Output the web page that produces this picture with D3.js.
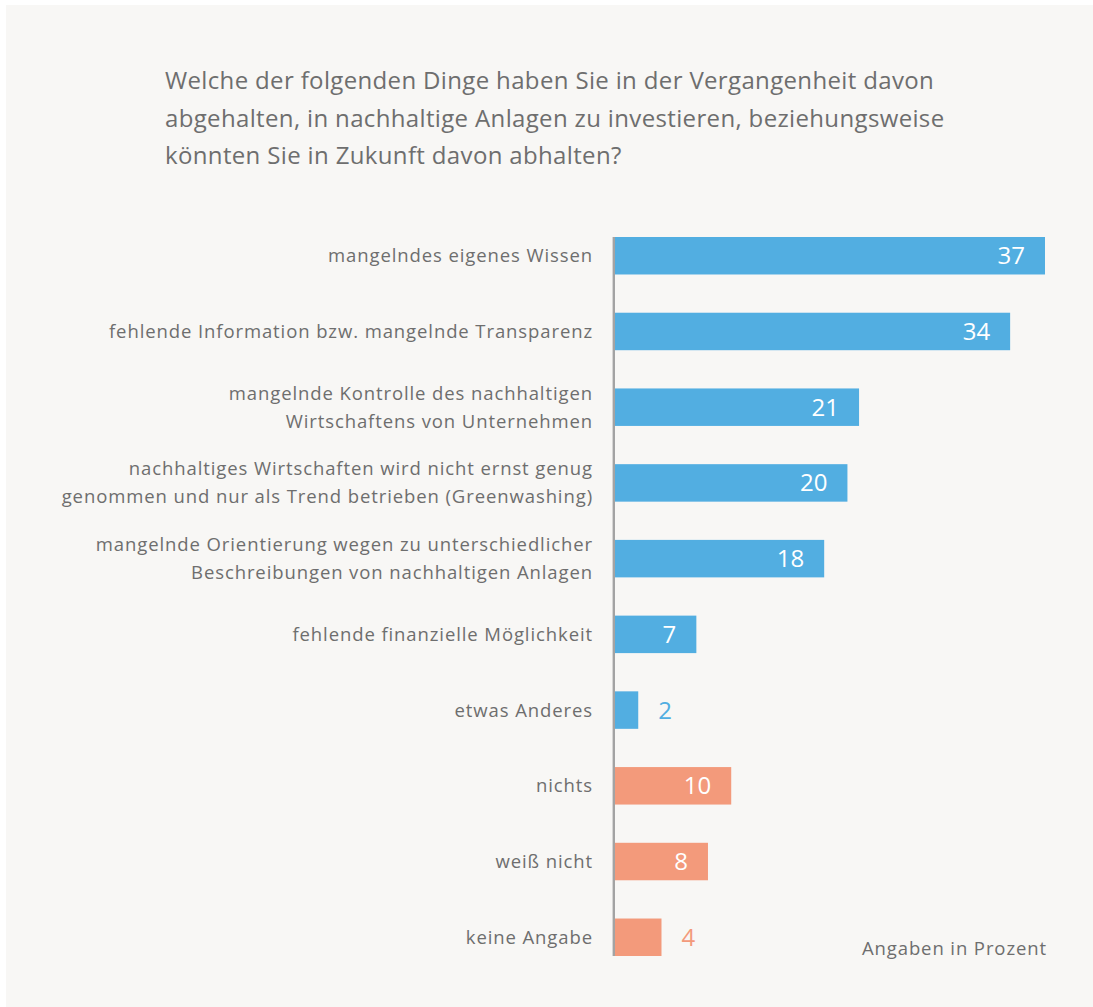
<!DOCTYPE html>
<html>
<head>
<meta charset="utf-8">
<script src="https://cdn.jsdelivr.net/npm/d3@7"></script>
<style>
  html, body { margin: 0; padding: 0; background: #ffffff; }
  svg { display: block; }
</style>
</head>
<body>
<svg id="chart"></svg>
<script>
// data
const titleLines = [
  "Welche der folgenden Dinge haben Sie in der Vergangenheit davon",
  "abgehalten, in nachhaltige Anlagen zu investieren, beziehungsweise",
  "könnten Sie in Zukunft davon abhalten?"
];
const categories = [
  ["mangelndes eigenes Wissen"],
  ["fehlende Information bzw. mangelnde Transparenz"],
  ["mangelnde Kontrolle des nachhaltigen", "Wirtschaftens von Unternehmen"],
  ["nachhaltiges Wirtschaften wird nicht ernst genug", "genommen und nur als Trend betrieben (Greenwashing)"],
  ["mangelnde Orientierung wegen zu unterschiedlicher", "Beschreibungen von nachhaltigen Anlagen"],
  ["fehlende finanzielle Möglichkeit"],
  ["etwas Anderes"],
  ["nichts"],
  ["weiß nicht"],
  ["keine Angabe"]
];
const values = [37, 34, 21, 20, 18, 7, 2, 10, 8, 4];
const groups = ["reason", "reason", "reason", "reason", "reason", "reason", "reason", "other", "other", "other"];
const footnote = "Angaben in Prozent";

const width = 1093, height = 1007;
const FONT = "'Open Sans', Lato, sans-serif";
const COLORS = { reason: "#52aee1", other: "#f39a7b", text: "#6e6e6e", axis: "#a3a3a3", panel: "#f8f7f5" };

const svg = d3.select("#chart").attr("width", width).attr("height", height);

// panel background
svg.append("rect")
  .attr("x", 6).attr("y", 5)
  .attr("width", width - 6).attr("height", height - 5)
  .attr("fill", COLORS.panel);

// title
const title = svg.append("text")
  .attr("x", 165).attr("y", 89)
  .style("font-family", FONT)
  .style("font-size", "24px")
  .style("letter-spacing", "0.35px")
  .style("fill", COLORS.text);
title.selectAll("tspan")
  .data(titleLines)
  .enter().append("tspan")
  .attr("x", 165)
  .attr("dy", (d, i) => i === 0 ? 0 : 37.5)
  .text(d => d);

// scales
const x0 = 615;
const x = d3.scaleLinear().domain([0, 37]).range([x0, 1045]);
const y = d3.scaleBand()
  .domain(d3.range(values.length))
  .range([237, 956])
  .paddingInner(0.505)
  .paddingOuter(0);

const g = svg.append("g");

g.selectAll("rect.bar")
  .data(values)
  .enter().append("rect")
  .attr("class", "bar")
  .attr("x", x0)
  .attr("y", (d, i) => y(i))
  .attr("width", d => x(d) - x0)
  .attr("height", y.bandwidth())
  .attr("fill", (d, i) => COLORS[groups[i]]);

// axis line
g.append("line")
  .attr("x1", x0 - 1.2).attr("x2", x0 - 1.2)
  .attr("y1", y(0)).attr("y2", y(values.length - 1) + y.bandwidth())
  .attr("stroke", COLORS.axis)
  .attr("stroke-width", 2.4);

// value labels
const inside = d => (x(d) - x0) > 60;
g.selectAll("text.val")
  .data(values)
  .enter().append("text")
  .attr("class", "val")
  .attr("x", d => inside(d) ? x(d) - 20 : x(d) + 20)
  .attr("y", (d, i) => y(i) + y.bandwidth() / 2 + 8.5)
  .attr("text-anchor", d => inside(d) ? "end" : "start")
  .style("font-family", FONT)
  .style("font-size", "24px")
  .style("fill", (d, i) => inside(d) ? "#ffffff" : COLORS[groups[i]])
  .text(d => d);

// category labels
const labels = g.selectAll("text.cat")
  .data(categories)
  .enter().append("text")
  .attr("class", "cat")
  .attr("text-anchor", "end")
  .style("font-family", FONT)
  .style("font-size", "18.5px")
  .style("letter-spacing", "0.9px")
  .style("fill", COLORS.text);

labels.each(function (lines, i) {
  const cy = y(i) + y.bandwidth() / 2;
  const lh = 28;
  const first = cy + 6.5 - (lines.length - 1) * lh / 2;
  d3.select(this).selectAll("tspan")
    .data(lines)
    .enter().append("tspan")
    .attr("x", 593)
    .attr("y", (d, j) => first + j * lh)
    .text(d => d);
});

// footnote
svg.append("text")
  .attr("x", 1047).attr("y", 955)
  .attr("text-anchor", "end")
  .style("font-family", FONT)
  .style("font-size", "18.5px")
  .style("letter-spacing", "0.9px")
  .style("fill", COLORS.text)
  .text(footnote);
</script>
</body>
</html>
